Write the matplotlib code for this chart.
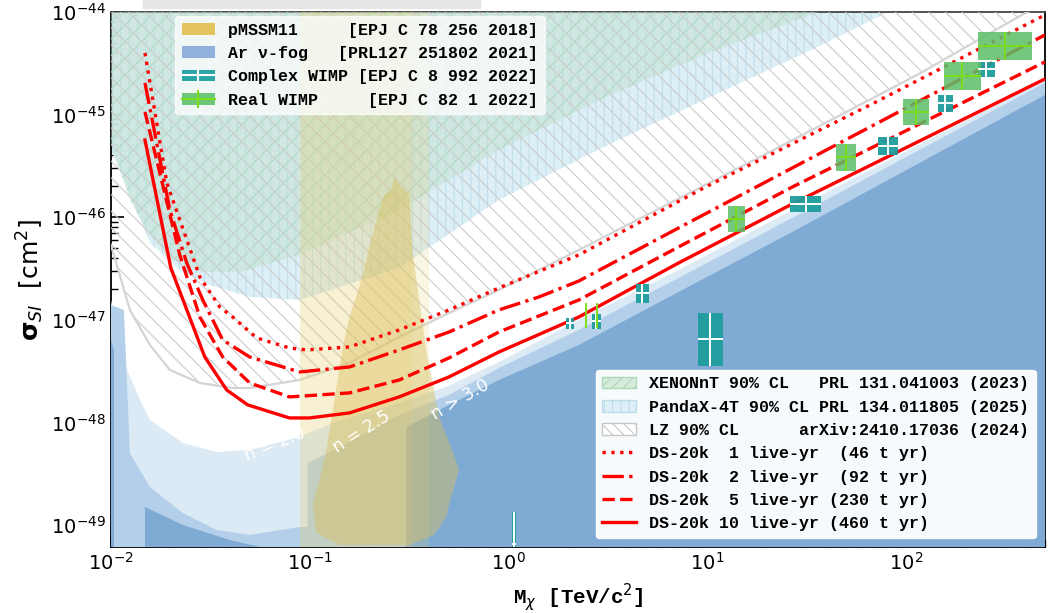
import numpy as np
import matplotlib
matplotlib.use('Agg')
import matplotlib.pyplot as plt
from matplotlib.patches import Patch, Rectangle
from matplotlib.lines import Line2D

# all curves as log10(M / TeV), log10(sigma / cm^2)

# DS-20k projections
ds1_lm = [-1.829, -1.719, -1.553, -1.453, -1.388, -1.267, -1.102, -1.016, -0.800, -0.550, -0.299, -0.048, 0.354, 0.991, 1.829, 2.699]
ds1_ls = [-44.400, -45.667, -46.583, -46.875, -46.973, -47.177, -47.275, -47.294, -47.265, -47.099, -46.904, -46.690, -46.368, -45.706, -44.897, -44.029]
ds2_lm = [-1.829, -1.704, -1.619, -1.538, -1.438, -1.302, -1.051, -0.800, -0.550, -0.299, -0.048, 0.153, 0.354, 0.856, 1.428, 1.829, 2.699]
ds2_ls = [-44.692, -45.930, -46.446, -46.807, -47.197, -47.363, -47.509, -47.460, -47.294, -47.119, -46.904, -46.778, -46.622, -46.105, -45.520, -45.111, -44.224]
ds5_lm = [-1.829, -1.654, -1.553, -1.438, -1.302, -1.102, -0.800, -0.550, -0.299, -0.048, 0.354, 0.856, 1.428, 2.699]
ds5_ls = [-44.975, -46.368, -46.973, -47.363, -47.616, -47.752, -47.713, -47.587, -47.372, -47.119, -46.807, -46.290, -45.706, -44.487]
ds10_lm = [-1.829, -1.699, -1.528, -1.418, -1.312, -1.102, -1.001, -0.800, -0.550, -0.299, -0.048, 0.354, 0.856, 1.428, 2.699]
ds10_ls = [-45.248, -46.495, -47.363, -47.684, -47.830, -47.957, -47.957, -47.908, -47.752, -47.557, -47.314, -46.973, -46.446, -45.871, -44.653]

# existing 90% CL limits
xenon_lm = [-2.0, -1.905, -1.804, -1.704, -1.553, -1.353, -1.051, -0.550, -0.048, 0.479, 1.006, 1.533, 1.859]
xenon_ls = [-45.277, -45.832, -46.173, -46.398, -46.534, -46.534, -46.368, -45.930, -45.345, -44.838, -44.400, -44.019, -43.786]
panda_lm = [-2.0, -1.804, -1.654, -1.503, -1.302, -1.051, -0.550, -0.048, 0.479, 1.006, 1.533, 1.890, 2.110]
panda_ls = [-45.345, -46.251, -46.515, -46.661, -46.778, -46.807, -46.495, -45.832, -45.316, -44.838, -44.361, -44.019, -43.805]
lz_lm = [-2.0, -1.905, -1.804, -1.704, -1.553, -1.388, -1.302, -1.051, -0.800, -0.550, -0.299, -0.048, 0.354, 0.745, 1.363, 2.065, 2.592, 2.699]
lz_ls = [-46.271, -46.904, -47.246, -47.489, -47.616, -47.665, -47.665, -47.587, -47.421, -47.168, -46.934, -46.710, -46.320, -45.930, -45.316, -44.604, -44.019, -43.922]

# Ar neutrino fog contours
fog20_lm = [-2.0, -1.940, -1.854, -1.804, -1.639, -1.468, -1.302, -1.051, -0.886, -0.550, -0.314, -0.048, 0.354, 0.856, 1.428, 2.699]
fog20_ls = [-46.807, -47.392, -47.782, -47.977, -48.201, -48.289, -48.269, -48.142, -48.006, -47.811, -47.655, -47.411, -47.002, -46.515, -45.930, -44.663]
fog25_lm = [-2.0, -1.935, -1.920, -1.905, -1.804, -1.639, -1.468, -1.302, -1.051, -1.011, -1.011, -0.876, -0.550, -0.299, -0.048, 0.354, 0.856, 1.428, 2.699]
fog25_ls = [-46.856, -46.904, -47.587, -48.298, -48.630, -48.883, -49.049, -49.097, -49.020, -49.020, -48.396, -48.269, -47.928, -47.733, -47.470, -47.099, -46.593, -46.008, -44.692]
fog30_lm = [-0.514, -0.514, -0.299, -0.048, 0.354, 0.856, 1.428, 2.699, 2.699]
fog30_ls = [-49.5, -48.045, -47.830, -47.587, -47.246, -46.729, -46.144, -44.809, -49.5]
fog30b_lm = [-1.829, -1.639, -1.403, -1.252, -1.252, -1.829]
fog30b_ls = [-48.825, -49.000, -49.146, -49.214, -49.5, -49.5]
fog30c_lm = [-2.0, -1.985, -1.985, -2.0]
fog30c_ls = [-47.2, -47.3, -49.5, -49.5]
fog_labels = ['n = 2.0', 'n = 2.5', 'n > 3.0']
fog_label_lm = [-1.177, -0.740, -0.243]
fog_label_ls = [-48.211, -48.094, -47.782]
fog_label_rot = [22, 32, 30]

# pMSSM11
pmssm_band = [(-1.051, -0.484), (-0.484, -0.399)]
pmssm_lm = [-0.575, -0.550, -0.499, -0.484, -0.449, -0.414, -0.349, -0.284, -0.248, -0.289, -0.314, -0.374, -0.499,
            -0.851, -0.966, -0.986, -0.951, -0.916, -0.876, -0.836, -0.800, -0.740, -0.700, -0.650, -0.625, -0.590]
pmssm_ls = [-45.608, -45.686, -45.784, -46.320, -46.807, -47.294, -47.947, -48.269, -48.464, -48.727, -48.922, -49.097, -49.195,
            -49.195, -49.078, -48.805, -48.561, -48.269, -47.782, -47.294, -46.973, -46.612, -46.290, -45.930, -45.784, -45.735]

# WIMP boxes: log10 M range, log10 sigma range
cw_m0 = [0.289, 0.419, 0.640, 0.951, 1.418, 1.859, 2.161, 2.361, 0.018]
cw_m1 = [0.329, 0.464, 0.705, 1.077, 1.573, 1.960, 2.236, 2.447, 0.038]
cw_s0 = [-47.090, -47.090, -46.836, -47.450, -45.949, -45.394, -44.975, -44.634, -49.5]
cw_s1 = [-46.982, -46.943, -46.651, -46.934, -45.793, -45.218, -44.809, -44.487, -48.873]
rw_m0 = [0.389, 0.444, 1.102, 1.649, 1.985, 2.191, 2.361]
rw_m1 = [0.389, 0.444, 1.192, 1.749, 2.115, 2.376, 2.632]
rw_s0 = [-47.080, -47.080, -46.144, -45.550, -45.101, -44.760, -44.468]
rw_s1 = [-46.836, -46.836, -45.891, -45.287, -44.848, -44.487, -44.195]

top_labels = ['pMSSM11     [EPJ C 78 256 2018]',
              'Ar ν-fog   [PRL127 251802 2021]',
              'Complex WIMP [EPJ C 8 992 2022]',
              'Real WIMP     [EPJ C 82 1 2022]']
bottom_labels = ['XENONnT 90% CL   PRL 131.041003 (2023)',
                 'PandaX-4T 90% CL PRL 134.011805 (2025)',
                 'LZ 90% CL      arXiv:2410.17036 (2024)',
                 'DS-20k  1 live-yr  (46 t yr)',
                 'DS-20k  2 live-yr  (92 t yr)',
                 'DS-20k  5 live-yr (230 t yr)',
                 'DS-20k 10 live-yr (460 t yr)']


def P(a):
    return 10.0 ** np.asarray(a, dtype=float)


plt.rcParams['hatch.linewidth'] = 0.8
TOP = 1e-43
BOT = 1e-51

fig = plt.figure(figsize=(10.48, 6.13), dpi=100)
ax = fig.add_axes([0.1059, 0.1077, 0.8912, 0.8728])
fig.patches.append(Rectangle((0.136, 0.987), 0.322, 0.013, transform=fig.transFigure,
                             color='#e6e6e6', zorder=0))

# exclusion regions
ax.fill_between(P(panda_lm), P(panda_ls), TOP, facecolor=(0.85, 0.93, 0.96, 0.9),
                edgecolor='#c2e0ec', hatch='||', lw=0, zorder=2)
ax.fill_between(P(xenon_lm), P(xenon_ls), TOP, facecolor=(0.74, 0.88, 0.80, 0.45),
                edgecolor='#b3dac3', hatch='//', lw=0, zorder=3)
ax.fill_between(P(lz_lm), P(lz_ls), TOP, facecolor='none', edgecolor='#cbcbcb',
                hatch='\\\\', lw=0, zorder=3.5)
ax.plot(P(lz_lm), P(lz_ls), color='#d4d4d4', lw=1.6, zorder=3.6)

# neutrino fog
ax.fill_between(P(fog20_lm), P(fog20_ls), BOT, color='#dbeaf5', lw=0, zorder=4)
ax.fill_between(P(fog25_lm), P(fog25_ls), BOT, color='#b3cfe9', lw=0, zorder=4.1)
for lm, ls in [(fog30_lm, fog30_ls), (fog30b_lm, fog30b_ls), (fog30c_lm, fog30c_ls)]:
    ax.fill(P(lm), P(ls), color='#7eaad4', lw=0, zorder=4.2)
for t, lm, ls, r in zip(fog_labels, fog_label_lm, fog_label_ls, fog_label_rot):
    ax.text(P(lm), P(ls), t, color='white', fontsize=12.5, rotation=r,
            ha='center', va='center', zorder=6)

# pMSSM11
for (a, b), al in zip(pmssm_band, [0.3, 0.18]):
    ax.axvspan(P(a), P(b), color='#e8cf6a', alpha=al, lw=0, zorder=5)
ax.fill(P(pmssm_lm), P(pmssm_ls), color='#d9c060', alpha=0.45, lw=0, zorder=5.1)

# DS-20k
red = '#ff0000'
ax.plot(P(ds1_lm), P(ds1_ls), color=red, lw=2.4, ls=':', zorder=8)
ax.plot(P(ds2_lm), P(ds2_ls), color=red, lw=2.4, ls='-.', zorder=8)
ax.plot(P(ds5_lm), P(ds5_ls), color=red, lw=2.4, ls='--', zorder=8)
ax.plot(P(ds10_lm), P(ds10_ls), color=red, lw=2.4, ls='-', zorder=8)

# WIMP candidates
def boxes(m0, m1, s0, s1, face, cross, alpha):
    for a, b, c, d in zip(m0, m1, s0, s1):
        x0, x1, y0, y1 = P(a), P(b), P(c), P(d)
        ax.add_patch(Rectangle((x0, y0), x1 - x0, y1 - y0, facecolor=face,
                               alpha=alpha, lw=0, zorder=9))
        xc, yc = P((a + b) / 2), P((c + d) / 2)
        ax.errorbar(xc, yc, xerr=[[xc - x0], [x1 - xc]], yerr=[[yc - y0], [y1 - yc]],
                    fmt='none', ecolor=cross, elinewidth=1.4, capsize=0, zorder=9.5)


boxes(cw_m0, cw_m1, cw_s0, cw_s1, '#1e9d9d', 'white', 0.95)
boxes(rw_m0, rw_m1, rw_s0, rw_s1, '#5cbf68', '#7ddc1c', 0.85)

ax.set_xscale('log')
ax.set_yscale('log')
ax.set_xlim(0.01, 500)
ax.set_ylim(6.1e-50, 1e-44)
ax.tick_params(which='both', direction='in', labelsize=14)
ax.tick_params(which='major', length=9, width=1.2)
ax.tick_params(which='minor', length=5, width=1.0)
for s in ax.spines.values():
    s.set_linewidth(1.3)
ax.spines['top'].set_color('#444444')

ax.set_ylabel(r'$\mathbf{\sigma}_{SI}$  [cm$^2$]', fontsize=18)
ax.set_xlabel(r'M$_\chi$ [TeV/c$^2$]', fontsize=15, fontfamily='Liberation Mono',
              fontweight='bold', labelpad=5)

mono = {'family': 'Liberation Mono', 'weight': 'bold', 'size': 12}
h_top = [Patch(facecolor='#e2c35e', edgecolor='none'),
         Patch(facecolor='#8fb1dc', edgecolor='none'),
         (Patch(facecolor='#2aa6a6', edgecolor='none'),
          Line2D([], [], color='white', lw=1.5, marker='|', ms=11, mew=1.5)),
         (Patch(facecolor='#6cc77a', edgecolor='none'),
          Line2D([], [], color='#7ddc1c', lw=1.5, marker='|', ms=13, mew=1.5))]
leg1 = ax.legend(h_top, top_labels, loc='upper left', bbox_to_anchor=(0.0685, 0.9925),
                 borderaxespad=0, prop=mono, framealpha=0.75, edgecolor='white')
leg1.set_zorder(20)
ax.add_artist(leg1)

h_bot = [Patch(facecolor='#d6ecdb', edgecolor='#acd8b8', hatch='///'),
         Patch(facecolor='#ddeef6', edgecolor='#bcdcea', hatch='||'),
         Patch(facecolor='white', edgecolor='#c8c8c8', hatch='\\\\\\'),
         Line2D([], [], color=red, lw=2.4, ls=':'),
         Line2D([], [], color=red, lw=2.4, ls='-.'),
         Line2D([], [], color=red, lw=2.4, ls='--'),
         Line2D([], [], color=red, lw=2.4, ls='-')]
leg2 = ax.legend(h_bot, bottom_labels, loc='lower right', bbox_to_anchor=(0.990, 0.017),
                 borderaxespad=0, prop=mono, framealpha=0.95, edgecolor='white')
leg2.set_zorder(20)

fig.savefig('out.png', dpi=100)
